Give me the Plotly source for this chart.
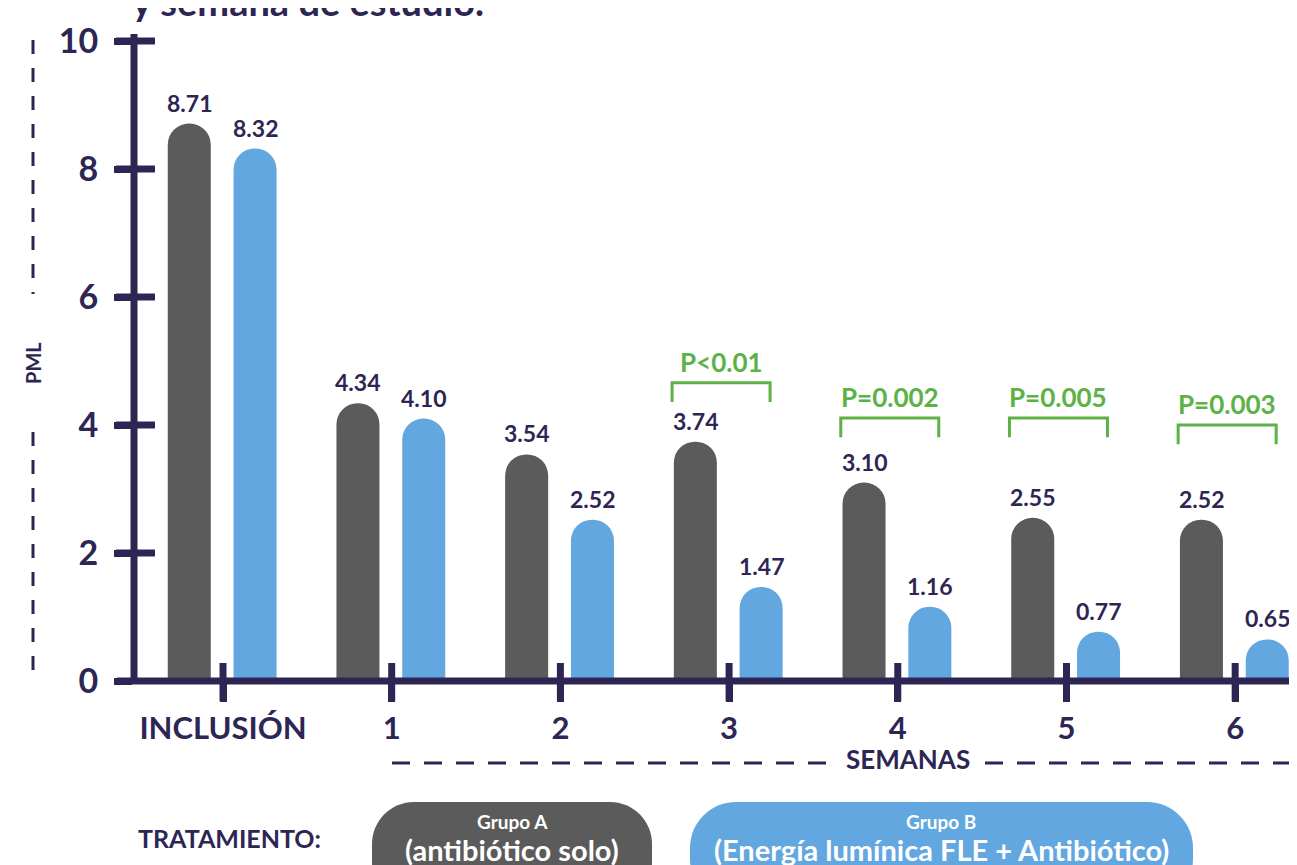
import plotly.graph_objects as go

# ---------------- data ----------------
categories = ["INCLUSIÓN", "1", "2", "3", "4", "5", "6"]
grupo_a = [8.71, 4.34, 3.54, 3.74, 3.10, 2.55, 2.52]   # antibiótico solo
grupo_b = [8.32, 4.10, 2.52, 1.47, 1.16, 0.77, 0.65]   # Energía lumínica FLE + Antibiótico
p_groups = [3, 4, 5, 6]
p_labels = ["P<0.01", "P=0.002", "P=0.005", "P=0.003"]
y_ticks = [0, 2, 4, 6, 8, 10]

# ---------------- style ----------------
NAVY = "#2d2654"
GRAY = "#5b5b5b"
BLUE = "#62a7df"
GREEN = "#5cb247"
FONT = "Lato"

# the page body has an 8px margin; work in window pixels and compensate
OFF = 8
WIN_W, WIN_H = 1297, 865
W, H = WIN_W - OFF, WIN_H - OFF
PL, PR, PT, PB = 133, 1297, 41, 681          # plot area in window pixels
L, T = PL - OFF, PT - OFF
R, B = WIN_W - PR, WIN_H - PB
PW, PH = PR - PL, PB - PT
XR = [-0.5335, 6.3665]
YR = [0, 10]

def px(x):
    return (x - PL) / PW

def py(y):
    return (PB - y) / PH

def ypix(v):
    return PB - (v - YR[0]) / (YR[1] - YR[0]) * PH

def xpix(v):
    return PL + (v - XR[0]) / (XR[1] - XR[0]) * PW

BW = 0.255
OFF_A, OFF_B = -0.2, 0.19

fig = go.Figure()
fig.add_trace(go.Bar(
    x=list(range(len(categories))), y=grupo_a, width=BW, offset=OFF_A - BW / 2,
    marker=dict(color=GRAY, cornerradius="50%", line=dict(width=0)),
    name="Grupo A", hoverinfo="skip"))
fig.add_trace(go.Bar(
    x=list(range(len(categories))), y=grupo_b, width=BW, offset=OFF_B - BW / 2,
    marker=dict(color=BLUE, cornerradius="50%", line=dict(width=0)),
    name="Grupo B", hoverinfo="skip"))

annotations = []
shapes = []

def ptext(x, y, text, size, color=NAVY, **kw):
    d = dict(x=px(x), y=py(y), xref="paper", yref="paper", text=text,
             showarrow=False, xanchor="center", yanchor="middle",
             font=dict(family=FONT, size=size, color=color, weight="bold"))
    d.update(kw)
    annotations.append(d)

# value labels
for i, (a, b) in enumerate(zip(grupo_a, grupo_b)):
    for v, off in ((a, OFF_A), (b, OFF_B)):
        annotations.append(dict(
            x=i + off, y=v, xref="x", yref="y", text=f"{v:.2f}",
            showarrow=False, xanchor="center", yanchor="bottom", yshift=5,
            font=dict(family=FONT, size=23, color=NAVY, weight="bold")))

# p-value brackets
bracket_top = [4.66, 4.11, 4.11, 4.0]
for g, lab, yt in zip(p_groups, p_labels, bracket_top):
    x0, x1 = g - 0.338, g + 0.243
    yb = yt - 0.30
    shapes.append(dict(type="path", xref="x", yref="y",
                       path=f"M {x0},{yb} L {x0},{yt} L {x1},{yt} L {x1},{yb}",
                       line=dict(color=GREEN, width=3)))
    annotations.append(dict(x=(x0 + x1) / 2, y=yt, xref="x", yref="y", text=lab,
                            showarrow=False, xanchor="center", yanchor="middle", yshift=21,
                            font=dict(family=FONT, size=26, color=GREEN, weight="bold")))

# axis lines
shapes.append(dict(type="line", xref="paper", yref="paper",
                   x0=px(117), x1=px(1297), y0=py(681), y1=py(681),
                   line=dict(color=NAVY, width=7)))
shapes.append(dict(type="line", xref="paper", yref="paper",
                   x0=px(134), x1=px(134), y0=py(34), y1=py(681),
                   line=dict(color=NAVY, width=7)))
# inner halves of ticks (crossing ticks)
for v in y_ticks[1:]:
    yp = ypix(v)
    shapes.append(dict(type="line", xref="paper", yref="paper",
                       x0=px(116), x1=px(155), y0=py(yp), y1=py(yp),
                       line=dict(color=NAVY, width=7)))
for i in range(len(categories)):
    xp = xpix(i)
    shapes.append(dict(type="line", xref="paper", yref="paper",
                       x0=px(xp), x1=px(xp), y0=py(663), y1=py(701),
                       line=dict(color=NAVY, width=7)))

# left dashed line with PML
for y0, y1 in ((40, 294), (432, 682)):
    shapes.append(dict(type="line", xref="paper", yref="paper",
                       x0=px(33), x1=px(33), y0=py(y0), y1=py(y1),
                       line=dict(color=NAVY, width=3, dash="14px,14px")))
ptext(33, 363, "PML", 20, textangle=-90)

# SEMANAS dashed line
for x0, x1 in ((392, 832), (985, 1297)):
    shapes.append(dict(type="line", xref="paper", yref="paper",
                       x0=px(x0), x1=px(x1), y0=py(763), y1=py(763),
                       line=dict(color=NAVY, width=3, dash="18px,14px")))
ptext(908, 759, "SEMANAS", 26)

# title (cut off at top)
ptext(130, 26, "y semana de estudio.", 38, xanchor="left", yanchor="bottom")

# legend pills
def pill(x0, y0, x1, y1, r):
    k = 0.5523 * r
    pts = [
        ("M", [(x0 + r, y0)]),
        ("L", [(x1 - r, y0)]),
        ("C", [(x1 - r + k, y0), (x1, y0 + r - k), (x1, y0 + r)]),
        ("L", [(x1, y1 - r)]),
        ("C", [(x1, y1 - r + k), (x1 - r + k, y1), (x1 - r, y1)]),
        ("L", [(x0 + r, y1)]),
        ("C", [(x0 + r - k, y1), (x0, y1 - r + k), (x0, y1 - r)]),
        ("L", [(x0, y0 + r)]),
        ("C", [(x0, y0 + r - k), (x0 + r - k, y0), (x0 + r, y0)]),
    ]
    s = ""
    for cmd, ps in pts:
        s += cmd + " " + " ".join(f"{px(a):.5f},{py(b):.5f}" for a, b in ps) + " "
    return s + "Z"

shapes.append(dict(type="path", xref="paper", yref="paper",
                   path=pill(372, 802, 652, 905, 42), fillcolor=GRAY, line=dict(width=0)))
shapes.append(dict(type="path", xref="paper", yref="paper",
                   path=pill(690, 802, 1193, 905, 46), fillcolor=BLUE, line=dict(width=0)))

ptext(229, 838, "TRATAMIENTO:", 25)
for cx, t1, t2 in ((512, "Grupo A", "(antibiótico solo)"),
                   (941, "Grupo B", "(Energía lumínica FLE + Antibiótico)")):
    ptext(cx, 821, t1, 19, color="white")
    ptext(cx, 849, t2, 29, color="white")

fig.update_layout(
    width=W, height=H,
    margin=dict(l=L, r=R, t=T, b=B, pad=0),
    paper_bgcolor="white", plot_bgcolor="white",
    barmode="overlay", showlegend=False,
    shapes=shapes, annotations=annotations,
    xaxis=dict(range=XR, tickvals=list(range(len(categories))), ticktext=categories,
               ticks="outside", ticklen=20, tickwidth=7, tickcolor=NAVY,
               showline=False, showgrid=False, zeroline=False, ticklabelstandoff=0,
               tickfont=dict(family=FONT, size=31, color=NAVY, weight="bold"),
               fixedrange=True),
    yaxis=dict(range=YR, tickvals=y_ticks, ticks="outside", ticklen=18, tickwidth=7,
               tickcolor=NAVY, showline=False, showgrid=False, zeroline=False,
               ticklabelstandoff=9,
               tickfont=dict(family=FONT, size=34, color=NAVY, weight="bold"),
               fixedrange=True),
)

fig.write_html("out.html")
